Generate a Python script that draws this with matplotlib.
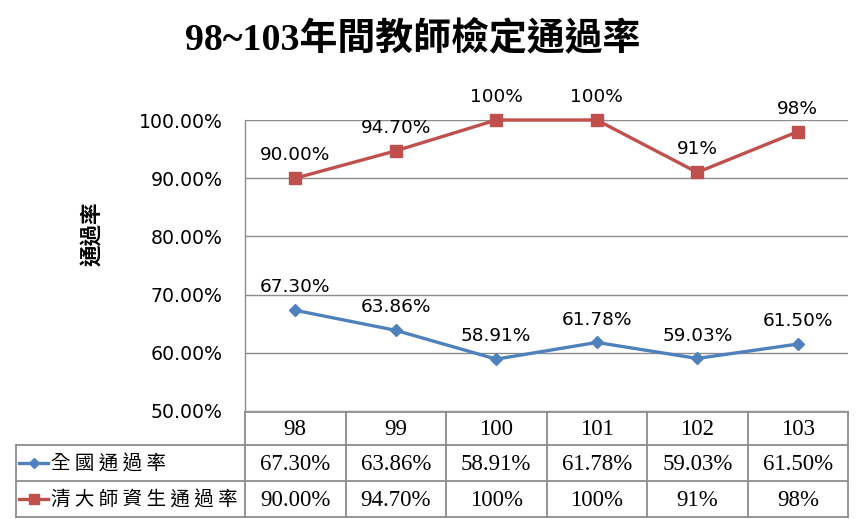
import numpy as np
import matplotlib
matplotlib.use("Agg")
import matplotlib.pyplot as plt

# ============================================================
# DATA
# ============================================================

YEARS = ["98", "99", "100", "101", "102", "103"]

NATIONAL_RATE = [67.30, 63.86, 58.91, 61.78, 59.03, 61.50]
NATIONAL_TEXT = ["67.30%", "63.86%", "58.91%", "61.78%", "59.03%", "61.50%"]

NTHU_RATE = [90.00, 94.70, 100.0, 100.0, 91.0, 98.0]
NTHU_TEXT = ["90.00%", "94.70%", "100%", "100%", "91%", "98%"]

SERIES_NAMES = ["全國通過率", "清大師資生通過率"]
Y_TICKS = [50, 60, 70, 80, 90, 100]

BLUE = "#4F81BD"
RED = "#C0504D"
GRID = "#8C8C8C"

plt.rcParams["font.family"] = ["DejaVu Sans", "Noto Sans CJK TC"]

# ============================================================
# FIGURE / PLOT AREA
# ============================================================

W, H = 858, 519
fig = plt.figure(figsize=(W / 100, H / 100), dpi=100)

PLOT_L, PLOT_R, PLOT_T, PLOT_B = 245, 848, 120, 411
ax = fig.add_axes([PLOT_L / W, (H - PLOT_B) / H,
                   (PLOT_R - PLOT_L) / W, (PLOT_B - PLOT_T) / H])

x = np.arange(len(YEARS))
ax.plot(x, NATIONAL_RATE, color=BLUE, lw=2.4, marker="D", ms=6,
        clip_on=False, zorder=3)
ax.plot(x, NTHU_RATE, color=RED, lw=2.4, marker="s", ms=8,
        clip_on=False, zorder=3)

for xi, v, t in zip(x, NATIONAL_RATE, NATIONAL_TEXT):
    ax.annotate(t, (xi, v), xytext=(0, 10), textcoords="offset points",
                ha="center", va="bottom", fontsize=13.3)
for xi, v, t in zip(x, NTHU_RATE, NTHU_TEXT):
    ax.annotate(t, (xi, v), xytext=(0, 10), textcoords="offset points",
                ha="center", va="bottom", fontsize=13.3)

ax.set_xlim(-0.5, len(YEARS) - 0.5)
ax.set_ylim(50, 100)
ax.set_yticks(Y_TICKS)
ax.set_yticklabels([f"{v:.2f}%" for v in Y_TICKS], fontsize=13.6)
ax.set_xticks([])
ax.tick_params(axis="y", length=0, pad=16)
ax.grid(axis="y", color=GRID, lw=1.0)
ax.set_axisbelow(True)
for side in ["top", "right", "bottom"]:
    ax.spines[side].set_visible(False)
ax.spines["left"].set_color(GRID)
ax.spines["left"].set_linewidth(1.0)

fig.text(93 / W, 1 - 234 / H, "通過率", rotation=90, ha="center", va="center",
         fontsize=15.5, fontweight="bold", family=["Noto Sans CJK TC"])

fig.text(413 / W, 1 - 39 / H, "98~103年間教師檢定通過率",
         ha="center", va="center", fontsize=27.3, fontweight="bold",
         family=["Liberation Serif", "Noto Sans CJK TC"])

# ============================================================
# DATA TABLE UNDER THE CHART
# ============================================================

ov = fig.add_axes([0, 0, 1, 1], zorder=-1)
ov.set_xlim(0, W)
ov.set_ylim(H, 0)
ov.axis("off")

col_w = (PLOT_R - PLOT_L) / len(YEARS)
col_edges = [PLOT_L + i * col_w for i in range(len(YEARS) + 1)]
TAB_L = 16
row_edges = [412, 445, 481, 517]
lkw = dict(color=GRID, lw=1.3)

# horizontal rules
ov.plot([PLOT_L, PLOT_R], [row_edges[0]] * 2, **lkw)
for yy in row_edges[1:]:
    ov.plot([TAB_L, PLOT_R], [yy] * 2, **lkw)
# vertical rules
for xx in col_edges:
    ov.plot([xx, xx], [row_edges[0], row_edges[-1]], **lkw)
ov.plot([TAB_L, TAB_L], [row_edges[1], row_edges[-1]], **lkw)

tkw = dict(ha="center", va="center", fontsize=16.5,
           family=["Liberation Serif"])
for i, yr in enumerate(YEARS):
    cx = (col_edges[i] + col_edges[i + 1]) / 2
    ov.text(cx, (row_edges[0] + row_edges[1]) / 2 + 1, yr, **tkw)
    ov.text(cx, (row_edges[1] + row_edges[2]) / 2 + 1, NATIONAL_TEXT[i], **tkw)
    ov.text(cx, (row_edges[2] + row_edges[3]) / 2 + 1, NTHU_TEXT[i], **tkw)

# legend keys in the row headers
for r, (name, col, mk, ms) in enumerate(zip(SERIES_NAMES, [BLUE, RED],
                                            ["D", "s"], [5, 7])):
    cy = (row_edges[r + 1] + row_edges[r + 2]) / 2
    ov.plot([19, 48], [cy, cy], color=col, lw=2.4)
    ov.plot([33.5], [cy], color=col, marker=mk, ms=ms, ls="none")
    ov.text(51, cy + 1, " ".join(name), ha="left", va="center",
            fontsize=14, family=["Noto Sans CJK TC"])

fig.savefig("out.png", dpi=100)
